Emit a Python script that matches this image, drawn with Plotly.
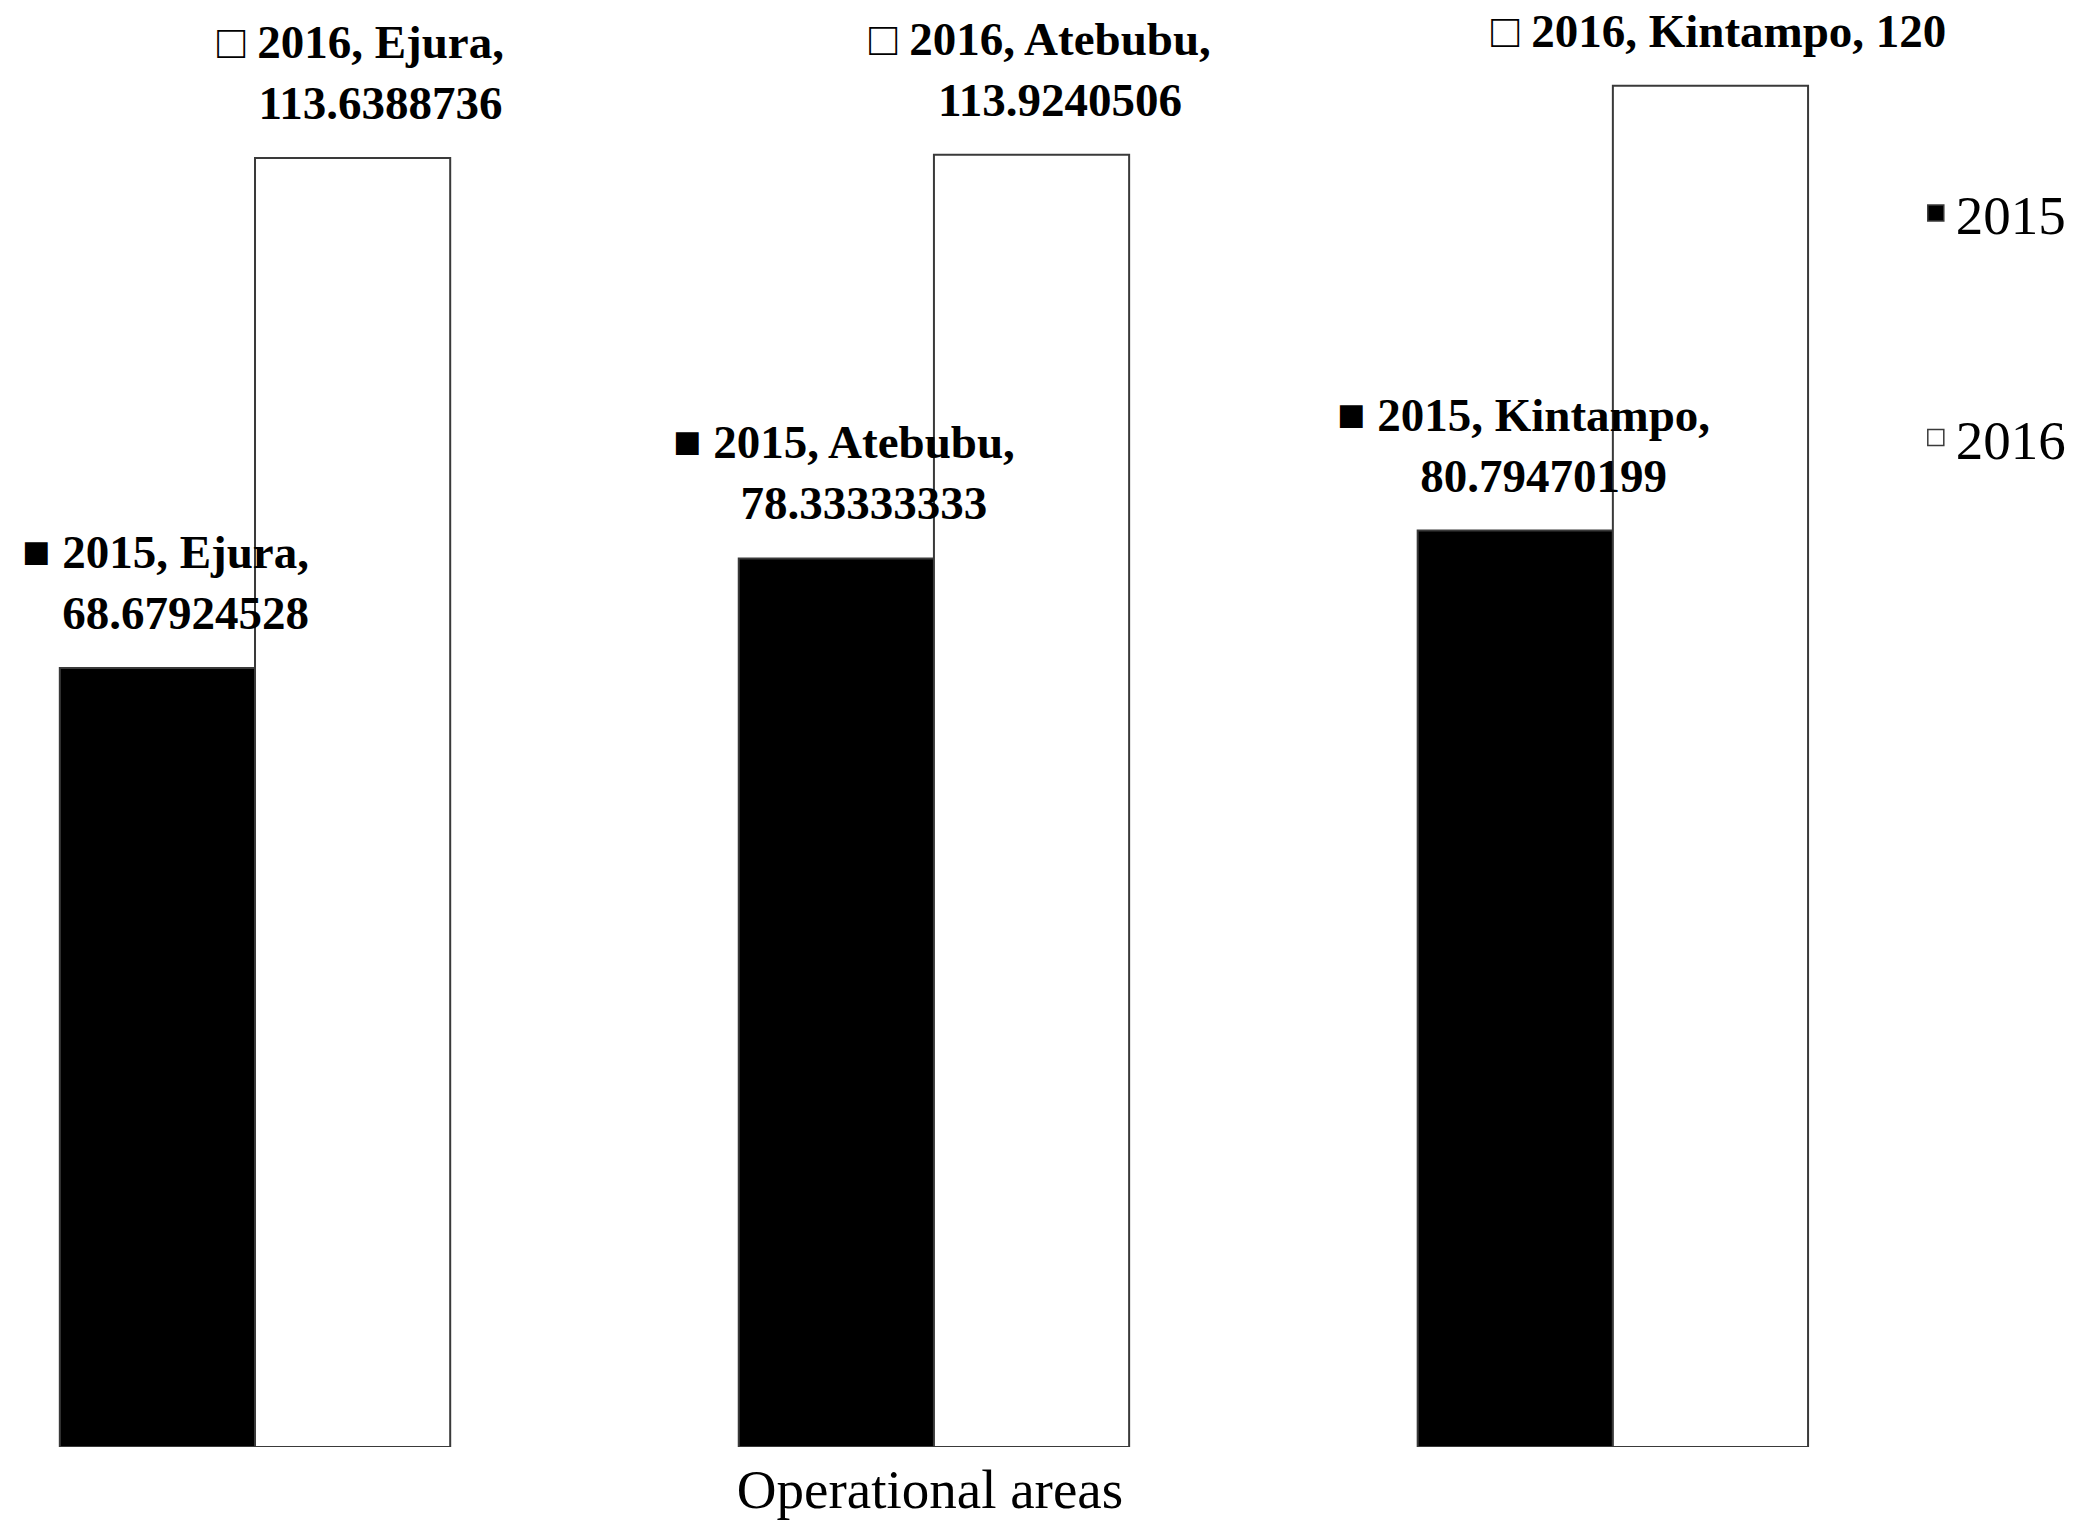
import plotly.graph_objects as go

# Operational areas and the values for each year
areas = ["Ejura", "Atebubu", "Kintampo"]
years = ["2015", "2016"]
values_2015 = [68.67924528, 78.33333333, 80.79470199]
values_2016 = [113.6388736, 113.9240506, 120]

# how each data label breaks after the area name
label_breaks_2015 = ["<br>", "<br>", "<br>"]
label_breaks_2016 = ["<br>", "<br>", " "]

SERIF = "Liberation Serif, Times New Roman, serif"
BARGAP = 0.425
OUTLINE = dict(color="#3a3a3a", width=2)
FILLS = ["black", "white"]

fig = go.Figure()
for year, vals, fill in zip(years, [values_2015, values_2016], FILLS):
    fig.add_trace(go.Bar(
        x=areas, y=vals, name=year, legendgroup=year, showlegend=False,
        marker=dict(color=fill, line=OUTLINE),
    ))
# legend keys drawn as larger squares for each year
for year, fill in zip(years, FILLS):
    fig.add_trace(go.Scatter(
        x=[None], y=[None], mode="markers", name=year, legendgroup=year,
        marker=dict(symbol="square", size=16, color=fill,
                    line=dict(color="#3a3a3a", width=1.5)),
        hoverinfo="skip",
    ))

# data labels: legend key, year, area and value above each bar
half = (1 - BARGAP) / 4
hidden_key = '<span style="color:rgba(0,0,0,0)">{} </span>'
series = [
    (years[0], values_2015, label_breaks_2015, "\u25A0", -half),
    (years[1], values_2016, label_breaks_2016, "\u25A1", +half),
]
for year, vals, breaks, key, off in series:
    for i, (area, v, br) in enumerate(zip(areas, vals, breaks)):
        value_txt = f"{v:.10g}"
        if br == "<br>":
            text = f"{key} {year}, {area},<br>{hidden_key.format(key)}{value_txt}"
        else:
            text = f"{key} {year}, {area}, {value_txt}"
        fig.add_annotation(
            x=i + off, y=v, xref="x", yref="y",
            text=text, showarrow=False,
            xanchor="center", yanchor="bottom",
            xshift=8, yshift=27, align="center",
            font=dict(family=SERIF, size=47, color="black", weight="bold"),
        )

fig.update_layout(
    width=2084, height=1527,
    margin=dict(l=0, r=224, t=0, b=80, autoexpand=False),
    paper_bgcolor="white", plot_bgcolor="white",
    barmode="group", bargap=BARGAP, bargroupgap=0,
    showlegend=True,
    legend=dict(
        x=1.03, y=0.882, xanchor="left", yanchor="top",
        font=dict(family=SERIF, size=55, color="black"),
        traceorder="grouped", tracegroupgap=150, itemsizing="trace",
        bgcolor="rgba(0,0,0,0)",
    ),
    xaxis=dict(
        type="category", range=[-0.3756, 2.364],
        showticklabels=False, ticks="", showgrid=False,
        zeroline=False, showline=False,
        title=dict(text="Operational areas",
                   font=dict(family=SERIF, size=55, color="black"),
                   standoff=22),
    ),
    yaxis=dict(
        range=[0, 127.57], visible=False,
        showgrid=False, zeroline=False,
    ),
)

fig.write_html("out.html")
